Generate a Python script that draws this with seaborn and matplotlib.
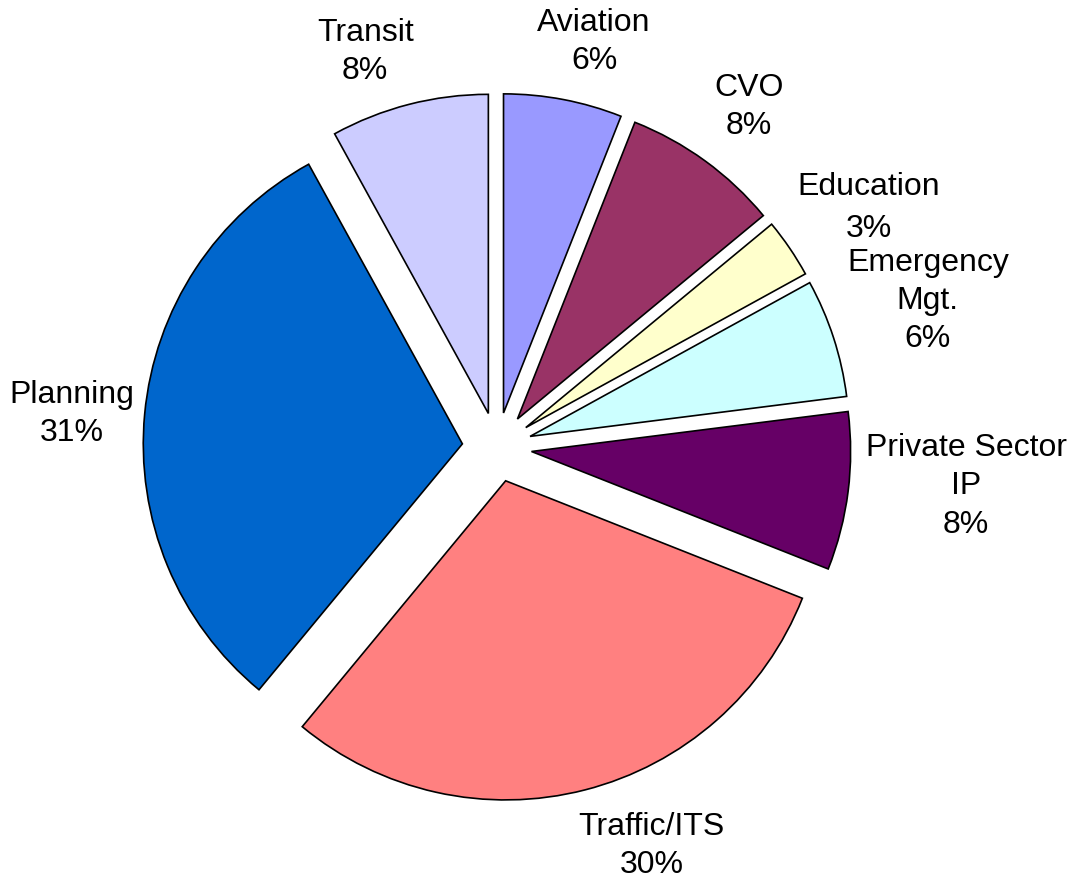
import numpy as np
import seaborn as sns
import matplotlib.pyplot as plt

# Slice data, clockwise from 12 o'clock
categories = ["Aviation", "CVO", "Education", "Emergency\nMgt.", "Private Sector\nIP",
              "Traffic/ITS", "Planning", "Transit"]
shares = [6, 8, 3, 6, 8, 30, 31, 8]
colors = ["#9999FF", "#993366", "#FFFFCC", "#CCFFFF", "#660066",
          "#FF8080", "#0066CC", "#CCCCFF"]

# label placement (radius factor and angle nudge in degrees) -- layout only
label_dist = [1.21, 1.23, 1.29, 1.33, 1.38, 1.245, 1.24, 1.21]
label_nudge = [-2.9, -0.5, -1.6, 0.8, 2.6, 7.4, 1.0, 4.4]


def run():
    sns.set_theme(style="white")
    plt.rcParams['font.family'] = ['Liberation Sans', 'DejaVu Sans']
    palette = sns.color_palette(colors)

    fig = plt.figure(figsize=(10.73, 8.81), dpi=100)
    ax = fig.add_axes([0, 0, 1, 1])

    wedges, _ = ax.pie(shares, colors=palette, startangle=90, counterclock=False,
                       explode=[0.11] * len(shares), radius=1.01,
                       wedgeprops=dict(edgecolor="black", linewidth=1.2))

    # Put each label outside its wedge
    for w, name, pct, d, nud in zip(wedges, categories, shares, label_dist, label_nudge):
        mid = np.deg2rad((w.theta1 + w.theta2) / 2 + nud)
        cx, cy = w.center
        ls = 1.5 if name == "Education" else 1.35
        ax.text(cx + d * np.cos(mid), cy + d * np.sin(mid), f"{name}\n{pct}%",
                ha="center", va="center", fontsize=23, linespacing=ls, color="black")

    ax.set_xlim(-1.573, 1.823)
    ax.set_ylim(-1.373, 1.415)
    ax.set_aspect("equal")
    ax.axis("off")

    fig.savefig("out.png", dpi=100, facecolor="white")


if __name__ == "__main__":
    run()
